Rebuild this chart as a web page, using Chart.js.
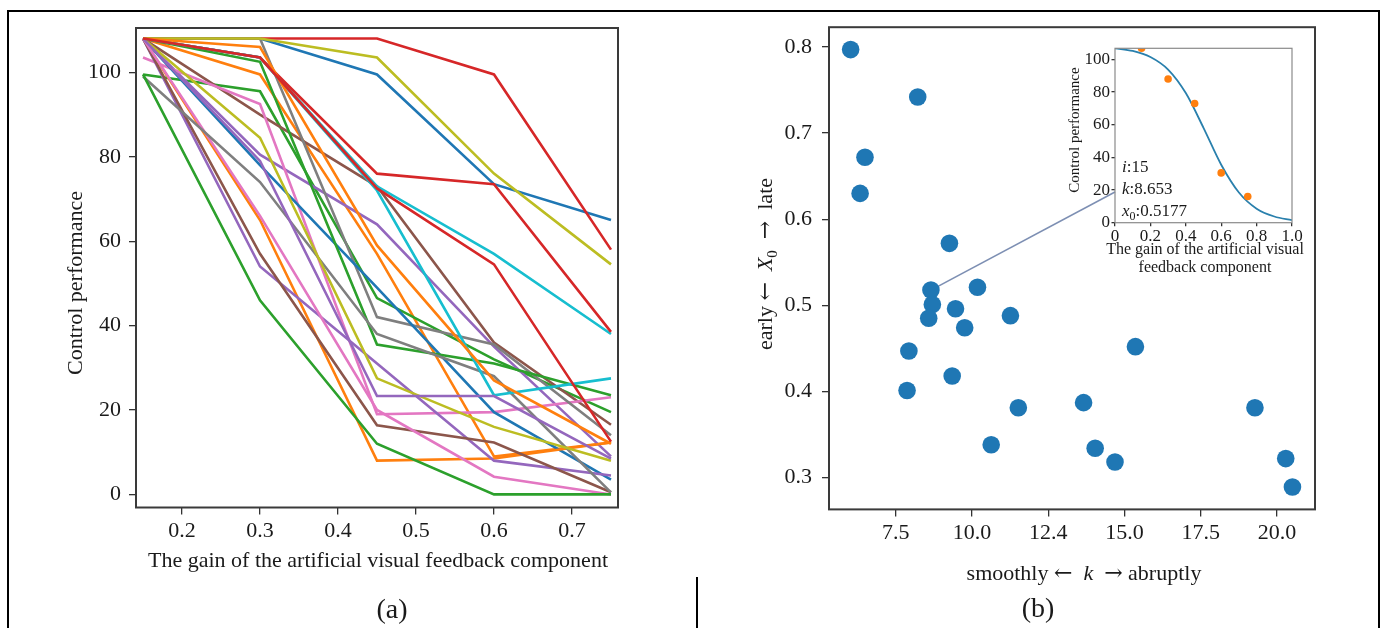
<!DOCTYPE html>
<html><head><meta charset="utf-8">
<script src="https://cdn.jsdelivr.net/npm/chart.js@4.4.1/dist/chart.umd.min.js"></script>
<style>
body{margin:0;background:#fff;}
#wrap{position:relative;width:1389px;height:628px;overflow:hidden;background:#fff;}
canvas{position:absolute;}
.rule{position:absolute;background:#000;}
</style></head>
<body><div id="wrap">
<div class="rule" style="left:7px;top:10px;width:1373px;height:2px;"></div>
<div class="rule" style="left:7px;top:10px;width:2px;height:640px;"></div>
<div class="rule" style="left:1378px;top:10px;width:2px;height:640px;"></div>
<div class="rule" style="left:696px;top:577px;width:2px;height:60px;"></div>
<canvas id="cA" width="700" height="628" style="left:0;top:0;width:700px;height:628px;"></canvas>
<canvas id="cB" width="689" height="628" style="left:700px;top:0;width:689px;height:628px;"></canvas>
<canvas id="cI" width="280" height="260" style="left:1040px;top:30px;width:280px;height:260px;"></canvas>
</div>
<script>
// ---------------- DATA ----------------
// Panel (a): gain levels and control performance per participant
const gainLevels = [0.15, 0.30, 0.45, 0.60, 0.75];
const perf01 = [108, 108, 99.5, 73.5, 65];
const perf02 = [108, 99.5, 57, 9, 12.3];
const perf03 = [99.5, 95.5, 46.5, 32, 19.5];
const perf04 = [108, 108, 108, 99.5, 58];
const perf05 = [108, 80.5, 64, 35, 9];
const perf06 = [108, 90, 73, 36, 16.5];
const perf07 = [103.5, 92.5, 19, 19.5, 23];
const perf08 = [108, 108, 42, 35.5, 14];
const perf09 = [108, 108, 103.5, 76, 54.5];
const perf10 = [108, 103.5, 73, 57, 38];
const perf11 = [108, 78, 49, 19.5, 3.5];
const perf12 = [108, 65, 8, 8.5, 12.3];
const perf13 = [108, 102.5, 35.5, 31, 23.5];
const perf14 = [108, 103.5, 76, 73.5, 38.5];
const perf15 = [108, 54, 31, 8, 4.5];
const perf16 = [108, 57, 16.4, 12.3, 0.5];
const perf17 = [108, 66, 20, 4.2, 0];
const perf18 = [99, 74, 38, 28, 0.5];
const perf19 = [108, 84.5, 27.5, 16, 8];
const perf20 = [108, 103.5, 72, 23.5, 27.5];
const perf21 = [108, 79, 23.3, 23.3, 8.5];
const perf22 = [108, 106, 59, 27, 12];
const perf23 = [99.5, 46, 12, 0, 0];
const perf24 = [108, 103.5, 72.5, 54.5, 12.5];
const xTicksA = [0.2, 0.3, 0.4, 0.5, 0.6, 0.7];
const xTickLabelsA = ['0.2', '0.3', '0.4', '0.5', '0.6', '0.7'];
const yTicksA = [0, 20, 40, 60, 80, 100];
const yTickLabelsA = ['0', '20', '40', '60', '80', '100'];

// Panel (b): fitted steepness k and midpoint X0 per participant
const kValues  = [6.02, 8.22, 6.49, 6.33, 9.26, 8.653, 10.18, 8.70, 9.46, 8.58, 9.76, 11.26, 7.93, 15.36, 7.87, 9.35, 13.66, 11.52, 19.28, 10.63, 14.04, 14.69, 20.29, 20.51];
const x0Values = [0.797, 0.742, 0.672, 0.630, 0.572, 0.5177, 0.521, 0.501, 0.496, 0.485, 0.474, 0.488, 0.447, 0.452, 0.401, 0.418, 0.387, 0.381, 0.381, 0.338, 0.334, 0.318, 0.322, 0.289];
const highlightedIndex = 5;
const xTicksB = [7.5, 10, 12.5, 15, 17.5, 20];
const xTickLabelsB = ['7.5', '10.0', '12.4', '15.0', '17.5', '20.0'];
const yTicksB = [0.3, 0.4, 0.5, 0.6, 0.7, 0.8];
const yTickLabelsB = ['0.3', '0.4', '0.5', '0.6', '0.7', '0.8'];

// Inset: one participant (i = 15) with its fitted curve
const insetGain = [0.15, 0.30, 0.45, 0.60, 0.75];
const insetPerf = [106.8, 88, 73, 30.5, 16];
const curveGain = [0, 0.1, 0.2, 0.3, 0.4, 0.5, 0.6, 0.7, 0.8, 0.9, 1.0];
const curvePerf = [106.8, 105.2, 101.5, 93.8, 79.4, 58.1, 35.5, 18.5, 8.6, 3.8, 1.6];
const xTicksI = [0, 0.2, 0.4, 0.6, 0.8, 1.0];
const xTickLabelsI = ['0', '0.2', '0.4', '0.6', '0.8', '1.0'];
const yTicksI = [0, 20, 40, 60, 80, 100];
const yTickLabelsI = ['0', '20', '40', '60', '80', '100'];
const insetParams = {i: '15', k: '8.653', x0: '0.5177'};

// ---------------- STYLE ----------------
const C = {blue:'#1f77b4', orange:'#ff7f0e', green:'#2ca02c', red:'#d62728', purple:'#9467bd',
  brown:'#8c564b', pink:'#e377c2', gray:'#7f7f7f', olive:'#bcbd22', cyan:'#17becf'};
const seriesA = [perf01,perf02,perf03,perf04,perf05,perf06,perf07,perf08,perf09,perf10,perf11,perf12,
  perf13,perf14,perf15,perf16,perf17,perf18,perf19,perf20,perf21,perf22,perf23,perf24];
const colorsA = [C.blue,C.orange,C.green,C.red,C.purple,C.brown,C.pink,C.gray,C.olive,C.cyan,
  C.blue,C.orange,C.green,C.red,C.purple,C.brown,C.pink,C.gray,C.olive,C.cyan,
  C.purple,C.orange,C.green,C.red];
const FAM = '"Liberation Serif", "Times New Roman", serif';
const ARROW_FAM = '"DejaVu Serif", "DejaVu Sans", serif';
const TXT = '#1a1a1a';

// ---------------- PLUGINS ----------------
const frameBox = {id:'frameBox', afterDatasetsDraw(chart, args, o){
  const {ctx, chartArea:a} = chart; ctx.save(); ctx.strokeStyle=o.color; ctx.lineWidth=o.width;
  ctx.strokeRect(a.left, a.top, a.right-a.left, a.bottom-a.top); ctx.restore(); }};
function drawRich(ctx, it){
  const size = it.size;
  const fontFor = s => `${s.italic?'italic ':''}${s.sub?Math.round(size*0.7):size}px ${s.arrow?ARROW_FAM:FAM}`;
  let total = 0;
  const widths = it.segments.map(s => { ctx.font = fontFor(s); const w = ctx.measureText(s.t).width; total += w; return w; });
  ctx.save(); ctx.translate(it.x, it.y); if (it.rotate) ctx.rotate(it.rotate*Math.PI/180);
  let x = it.align==='left' ? 0 : (it.align==='right' ? -total : -total/2);
  ctx.fillStyle = it.color || TXT; ctx.textBaseline = 'middle'; ctx.textAlign = 'left';
  it.segments.forEach((s,i) => { ctx.font = fontFor(s); ctx.fillText(s.t, x, s.sub ? size*0.3 : 0); x += widths[i]; });
  ctx.restore();
}
const richText = {id:'richText', afterDraw(chart, args, o){ (o.items||[]).forEach(it => drawRich(chart.ctx, it)); }};

function axisCommon(tickVals, tickLabels, size, tickLen, pad, extra){
  return Object.assign({
    type:'linear',
    afterBuildTicks: s => { s.ticks = tickVals.map(v => ({value:v})); },
    grid:{display:true, drawOnChartArea:false, drawTicks:true, tickLength:tickLen, tickColor:'#333', lineWidth:1.3},
    border:{display:false},
    ticks:{autoSkip:false, maxRotation:0, padding:pad, color:TXT, font:{family:FAM, size:size},
      callback:(v,i) => tickLabels[i]}
  }, extra);
}

// ---------------- PANEL (a) ----------------
const datasetsA = seriesA.map((vals, i) => ({
  data: gainLevels.map((g, j) => ({x:g, y:vals[j]})),
  borderColor: colorsA[i], borderWidth: 2.6, pointRadius: 0, tension: 0, order: -i
}));
new Chart(document.getElementById('cA'), {
  type:'line',
  data:{datasets: datasetsA},
  options:{
    responsive:false, animation:false, devicePixelRatio:1,
    layout:{padding:{left:0, top:28, right:82, bottom:0}},
    plugins:{legend:{display:false}, tooltip:{enabled:false},
      frameBox:{color:'#3a3a3a', width:2},
      richText:{items:[
        {x:378, y:561, size:22, segments:[{t:'The gain of the artificial visual feedback component'}]},
        {x:76, y:283, size:22, rotate:-90, segments:[{t:'Control performance'}]},
        {x:392, y:611, size:28, segments:[{t:'(a)'}]}
      ]}},
    scales:{
      x: axisCommon(xTicksA, xTickLabelsA, 22, 7, 4, {min:0.141, max:0.759, afterFit: s => { s.height = 120.5; }}),
      y: axisCommon(yTicksA, yTickLabelsA, 22, 7, 8, {min:-3.1, max:110.5, afterFit: s => { s.width = 136; }})
    }
  },
  plugins:[frameBox, richText]
});

// ---------------- INSET ----------------
const INSET_POS = {left:1040, top:30}, B_POS = {left:700, top:0};
const insetChart = new Chart(document.getElementById('cI'), {
  type:'scatter',
  data:{datasets:[
    {type:'scatter', data: insetGain.map((g,j) => ({x:g, y:insetPerf[j]})), backgroundColor:C.orange,
      borderWidth:0, pointRadius:3.8, order:0, clip:0},
    {type:'line', data: curveGain.map((g,j) => ({x:g, y:curvePerf[j]})), borderColor:'#2a80ad', borderWidth:1.8,
      pointRadius:0, cubicInterpolationMode:'monotone', order:1, clip:0}
  ]},
  options:{
    responsive:false, animation:false, devicePixelRatio:1,
    layout:{padding:{left:0, top:18.3, right:28, bottom:0}},
    plugins:{legend:{display:false}, tooltip:{enabled:false},
      frameBox:{color:'#8a8a8a', width:1.2},
      richText:{items:[
        {x:82, y:138, size:17, align:'left', segments:[{t:'i', italic:true},{t:':'+insetParams.i}]},
        {x:82, y:160, size:17, align:'left', segments:[{t:'k', italic:true},{t:':'+insetParams.k}]},
        {x:82, y:182, size:17, align:'left', segments:[{t:'x', italic:true},{t:'0', sub:true},{t:':'+insetParams.x0}]},
        {x:35, y:100, size:15, rotate:-90, segments:[{t:'Control performance'}]},
        {x:165, y:220, size:16, segments:[{t:'The gain of the artificial visual'}]},
        {x:165, y:238, size:16, segments:[{t:'feedback component'}]}
      ]}},
    scales:{
      x: axisCommon(xTicksI, xTickLabelsI, 17, 3.5, 0, {min:0, max:1, afterFit: s => { s.height = 67.3; }}),
      y: axisCommon(yTicksI, yTickLabelsI, 17, 3.5, 1.5, {min:0, max:106.8, afterFit: s => { s.width = 75; }})
    }
  },
  plugins:[frameBox, richText]
});

// ---------------- PANEL (b) ----------------
const connector = {id:'connector', beforeDatasetsDraw(chart, args, o){
  const p = chart.getDatasetMeta(0).data[highlightedIndex];
  const ex = INSET_POS.left - B_POS.left + insetChart.chartArea.left;
  const ey = INSET_POS.top - B_POS.top + insetChart.scales.y.getPixelForValue(o.anchorValue);
  const ctx = chart.ctx; ctx.save(); ctx.strokeStyle = o.color; ctx.lineWidth = o.width;
  ctx.beginPath(); ctx.moveTo(p.x, p.y); ctx.lineTo(ex, ey); ctx.stroke(); ctx.restore(); }};
new Chart(document.getElementById('cB'), {
  type:'scatter',
  data:{datasets:[{data: kValues.map((k,j) => ({x:k, y:x0Values[j]})), backgroundColor:C.blue,
    borderWidth:0, pointRadius:8.8}]},
  options:{
    responsive:false, animation:false, devicePixelRatio:1,
    layout:{padding:{left:0, top:27.2, right:74, bottom:0}},
    plugins:{legend:{display:false}, tooltip:{enabled:false},
      frameBox:{color:'#3a3a3a', width:2},
      connector:{color:'#7d8fb3', width:1.6, anchorValue:18.8},
      richText:{items:[
        {x:384, y:574, size:22, segments:[{t:'smoothly '},{t:'←', arrow:true},{t:'  '},{t:'k', italic:true},{t:'  '},{t:'→', arrow:true},{t:' abruptly'}]},
        {x:66, y:264, size:22, rotate:-90, segments:[{t:'early '},{t:'←', arrow:true},{t:'  '},{t:'X', italic:true},{t:'0', sub:true},{t:'  '},{t:'→', arrow:true},{t:'  late'}]},
        {x:338, y:610, size:28, segments:[{t:'(b)'}]}
      ]}},
    scales:{
      x: axisCommon(xTicksB, xTickLabelsB, 22, 7, 4, {min:5.31, max:21.25, afterFit: s => { s.height = 118.6; }}),
      y: axisCommon(yTicksB, yTickLabelsB, 22, 7, 10, {min:0.263, max:0.823, afterFit: s => { s.width = 129; }})
    }
  },
  plugins:[connector, frameBox, richText]
});
</script>
</body></html>
